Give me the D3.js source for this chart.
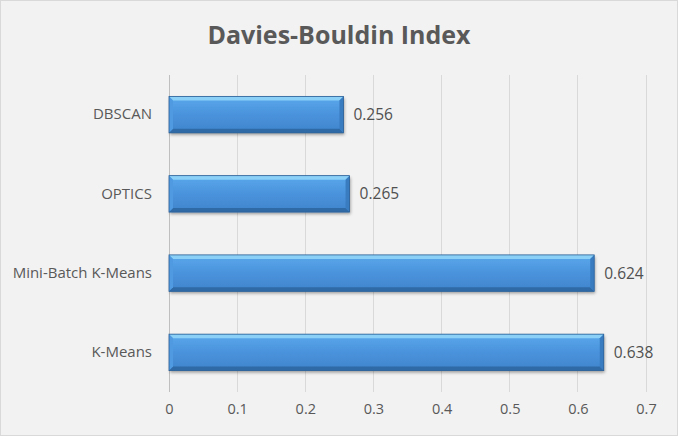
<!DOCTYPE html>
<html>
<head>
<meta charset="utf-8">
<script src="https://cdn.jsdelivr.net/npm/d3@7"></script>
<style>
body { margin: 0; background: #fff; }
svg { display: block; font-family: "Open Sans", "Liberation Sans", sans-serif; }
</style>
</head>
<body>
<script>
var categories = ["DBSCAN", "OPTICS", "Mini-Batch K-Means", "K-Means"];
var values = [0.256, 0.265, 0.624, 0.638];
var tickValues = [0, 0.1, 0.2, 0.3, 0.4, 0.5, 0.6, 0.7];

var w = 678,
    h = 436,
    plotLeft = 169,
    plotRight = 646,
    plotTop = 75,
    plotBottom = 392;

var svg = d3.select("body").append("svg")
    .attr("width", w)
    .attr("height", h);

svg.append("rect")
    .attr("x", 0.5).attr("y", 0.5)
    .attr("width", w - 1).attr("height", h - 1)
    .attr("fill", "#f2f2f2")
    .attr("stroke", "#d9d9d9");

var defs = svg.append("defs");
var grad = defs.append("linearGradient")
    .attr("id", "barGrad")
    .attr("x1", 0).attr("y1", 0).attr("x2", 0).attr("y2", 1);
grad.append("stop").attr("offset", "0%").attr("stop-color", "#5aa8ec");
grad.append("stop").attr("offset", "50%").attr("stop-color", "#4a93dc");
grad.append("stop").attr("offset", "100%").attr("stop-color", "#3f84cc");

var shadow = defs.append("filter").attr("id", "shadow")
    .attr("x", "-5%").attr("y", "-20%").attr("width", "110%").attr("height", "160%");
shadow.append("feDropShadow")
    .attr("dx", 1).attr("dy", 2).attr("stdDeviation", 1.5)
    .attr("flood-color", "#000").attr("flood-opacity", 0.35);

var x = d3.scaleLinear().domain([0, 0.7]).range([plotLeft, plotRight]);
var y = d3.scaleBand().domain(categories).range([plotTop, plotBottom]).paddingInner(0.54).paddingOuter(0.27);

// gridlines
svg.append("g").selectAll("line")
    .data(tickValues)
    .enter().append("line")
    .attr("x1", function(d) { return x(d); })
    .attr("x2", function(d) { return x(d); })
    .attr("y1", plotTop)
    .attr("y2", plotBottom)
    .attr("stroke", function(d) { return d === 0 ? "#bfbfbf" : "#d9d9d9"; })
    .attr("stroke-width", 1)
    .attr("shape-rendering", "crispEdges");

// title
svg.append("text")
    .attr("x", 339)
    .attr("y", 44)
    .attr("text-anchor", "middle")
    .attr("font-size", 25)
    .attr("font-weight", "bold")
    .attr("fill", "#595959")
    .text("Davies-Bouldin Index");

// bars
var bars = svg.append("g").selectAll("g")
    .data(categories)
    .enter().append("g")
    .attr("transform", function(d) { return "translate(" + x(0) + "," + y(d) + ")"; });

bars.each(function(d, i) {
    var g = d3.select(this);
    var bw = x(values[i]) - x(0);
    var bh = y.bandwidth();
    var b = 4;
    g.append("rect")
        .attr("width", bw).attr("height", bh)
        .attr("fill", "url(#barGrad)")
        .attr("filter", "url(#shadow)");
    // top bevel
    g.append("polygon")
        .attr("points", [[0, 0], [bw, 0], [bw - b, b], [b, b]].join(" "))
        .attr("fill", "#8ad0f7");
    // bottom bevel
    g.append("polygon")
        .attr("points", [[0, bh], [bw, bh], [bw - b, bh - b], [b, bh - b]].join(" "))
        .attr("fill", "#2f6aa6");
    // right bevel
    g.append("polygon")
        .attr("points", [[bw, 0], [bw, bh], [bw - b, bh - b], [bw - b, b]].join(" "))
        .attr("fill", "#3a7cc0");
    // left bevel
    g.append("polygon")
        .attr("points", [[0, 0], [0, bh], [b, bh - b], [b, b]].join(" "))
        .attr("fill", "#4f9ae0");
    g.append("rect")
        .attr("width", bw).attr("height", bh)
        .attr("fill", "none")
        .attr("stroke", "#2b5f95")
        .attr("stroke-width", 0.8);
});

// value labels
svg.append("g").selectAll("text")
    .data(categories)
    .enter().append("text")
    .attr("x", function(d, i) { return x(values[i]) + 10; })
    .attr("y", function(d) { return y(d) + y.bandwidth() / 2; })
    .attr("dy", "0.35em")
    .attr("font-size", 15.5)
    .attr("fill", "#505050")
    .text(function(d, i) { return values[i].toFixed(3); });

// category axis
var yAxis = d3.axisLeft(y).tickSize(0).tickPadding(17);
svg.append("g")
    .attr("transform", "translate(" + plotLeft + ",0)")
    .call(yAxis)
    .call(function(g) { g.select(".domain").remove(); })
    .selectAll("text")
    .attr("font-family", "\"Open Sans\", sans-serif")
    .attr("font-size", 15)
    .attr("fill", "#595959");

// value axis
var xAxis = d3.axisBottom(x).tickValues(tickValues).tickSize(0).tickPadding(12)
    .tickFormat(function(d) { return d3.format("")(+d.toFixed(1)); });
svg.append("g")
    .attr("transform", "translate(0," + plotBottom + ")")
    .call(xAxis)
    .call(function(g) { g.select(".domain").remove(); })
    .selectAll("text")
    .attr("font-family", "\"Open Sans\", sans-serif")
    .attr("font-size", 14.5)
    .attr("fill", "#595959");
</script>
</body>
</html>
